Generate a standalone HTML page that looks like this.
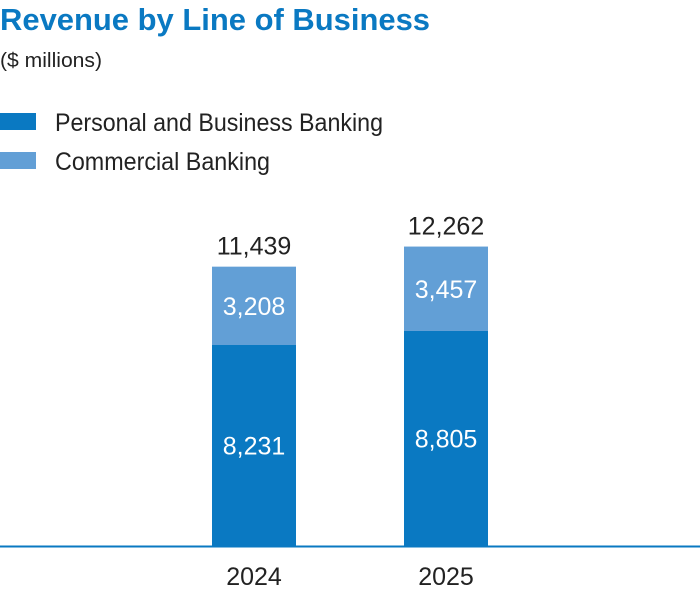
<!DOCTYPE html>
<html><head><meta charset="utf-8"><style>
html,body{margin:0;padding:0;background:#fff;}
svg{display:block;font-family:"Liberation Sans Narrow","Liberation Sans",sans-serif;}
</style></head><body>
<svg id="chart" width="700" height="592" viewBox="0 0 700 592">
<text x="0" y="30" font-size="31" font-weight="bold" fill="#0a79c2" textLength="430" lengthAdjust="spacingAndGlyphs">Revenue by Line of Business</text>
<text x="0" y="67" font-size="20" fill="#222" textLength="102" lengthAdjust="spacingAndGlyphs">($ millions)</text>
<rect x="0" y="113" width="36" height="17" fill="#0a79c2"/>
<text x="55" y="131" font-size="25" fill="#222" textLength="328" lengthAdjust="spacingAndGlyphs">Personal and Business Banking</text>
<rect x="0" y="152" width="36" height="17" fill="#629fd6"/>
<text x="55" y="170" font-size="25" fill="#222" textLength="215" lengthAdjust="spacingAndGlyphs">Commercial Banking</text>
<g id="bars"></g>
<line x1="0" y1="546.5" x2="700" y2="546.5" stroke="#0a79c2" stroke-width="2"/>
</svg>
<script>
const categories = ["2024", "2025"];
const personal = [8231, 8805];
const commercial = [3208, 3457];
const totalLabels = ["11,439", "12,262"];
const personalLabels = ["8,231", "8,805"];
const commercialLabels = ["3,208", "3,457"];

const NS = "http://www.w3.org/2000/svg";
const g = document.getElementById('bars');
const baseY = 546;
const scale = 201 / 8231;
function y(v){ return baseY - v * scale; }
function xCenter(i){ return 254 + i * 192; }
const bw = 84;
function mk(tag, attrs){ const e = document.createElementNS(NS, tag); for (const k in attrs) e.setAttribute(k, attrs[k]); g.appendChild(e); return e; }
function txt(x, yy, s, fill, size){
  const t = mk('text', {x: x, y: yy, 'text-anchor': 'middle', 'font-size': size, fill: fill});
  t.textContent = s; return t;
}
categories.forEach((c, i) => {
  const cx = xCenter(i);
  const yp = y(personal[i]);
  const yt = y(personal[i] + commercial[i]);
  const b1 = mk('rect', {x: cx - bw/2, y: yp, width: bw, height: baseY - yp, fill: '#0a79c2'});
  
  
  const b2 = mk('rect', {x: cx - bw/2, y: yt, width: bw, height: yp - yt, fill: '#629fd6'});
  
  
  const l1 = txt(cx, (yp + baseY) / 2 + 9, personalLabels[i], '#fff', 25);
  
  
  const l2 = txt(cx, (yt + yp) / 2 + 9, commercialLabels[i], '#fff', 25);
  
  
  const l3 = txt(cx, yt - 12, totalLabels[i], '#222', 25);
  
  
  const l4 = txt(cx, 585, c, '#222', 25);
  
  
});
</script>
</body></html>
